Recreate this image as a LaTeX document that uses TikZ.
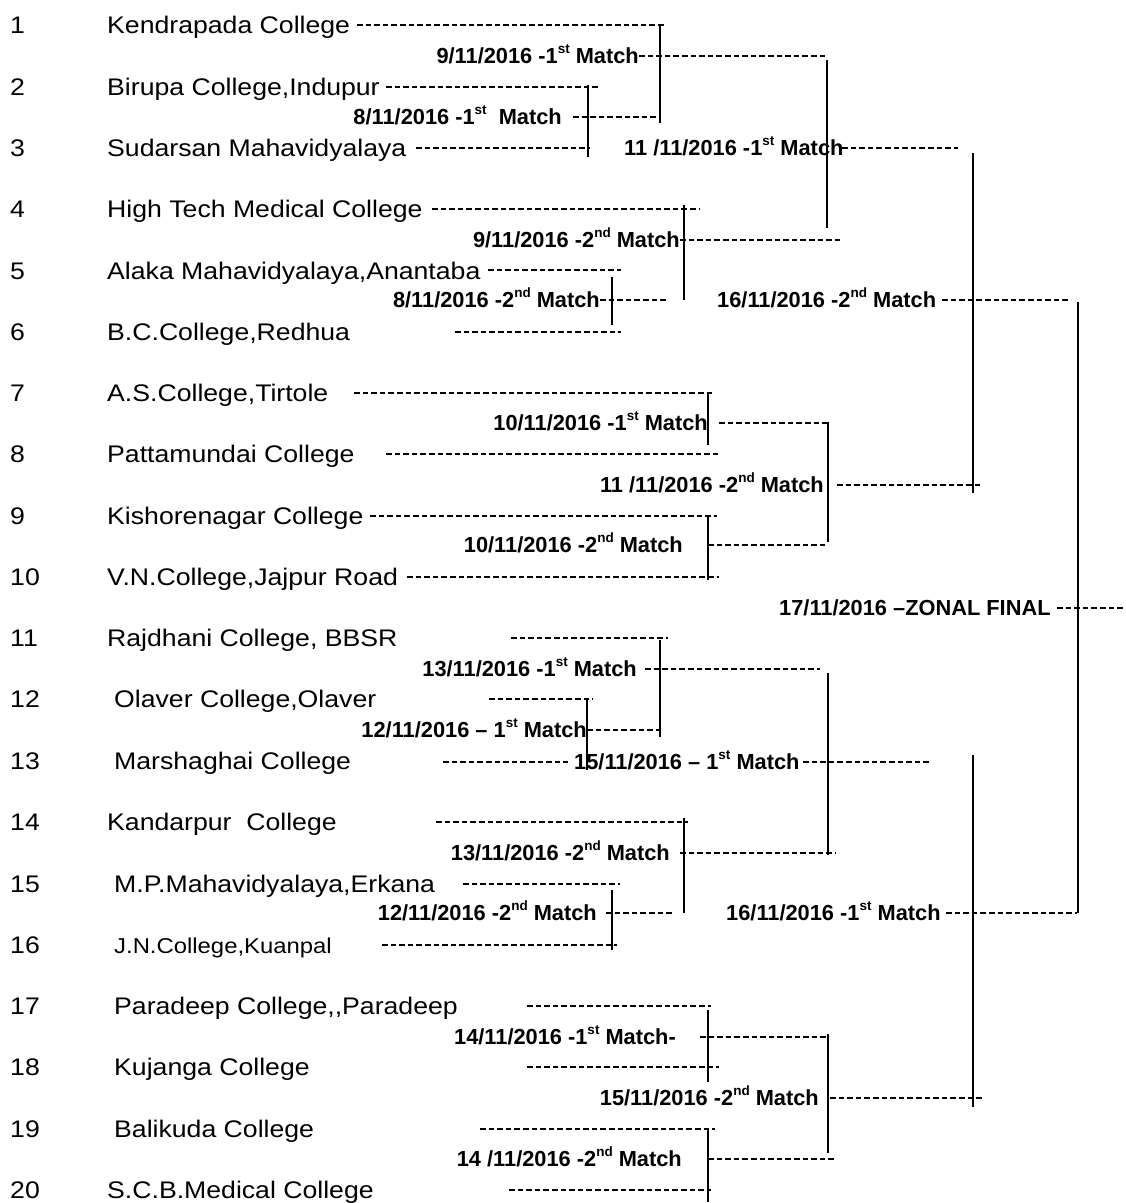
\documentclass[tikz,border=0pt]{standalone}
\usepackage{fontspec}
\setmainfont{Liberation Sans}
\newfontfamily\regf[FakeStretch=1.11]{Liberation Sans}
\newcommand\ordsup[1]{\raisebox{10pt}{\fontsize{13.5}{13.5}\selectfont #1}}
\tikzset{
  rownum/.style={anchor=base west, inner sep=0pt, font=\regf\fontsize{24}{28}\selectfont},
  college/.style={anchor=base west, inner sep=0pt, font=\regf\fontsize{24}{28}\selectfont},
  lbl/.style={anchor=base west, inner sep=0pt, font=\fontsize{21.8}{26}\selectfont\bfseries},
  lble/.style={lbl, anchor=base east},
  hy/.style={line width=2pt, dash pattern=on 5.6pt off 3pt},
  vl/.style={line width=1.8pt}
}
\begin{document}
\begin{tikzpicture}[x=1pt,y=-1pt]
\fill[white] (0,0) rectangle (1126,1203);
\useasboundingbox (0,0) rectangle (1126,1203);

% row numbers
\foreach \r/\b in {1/33.5,2/95,3/156.5,4/217.5,5/279,6/340.5,7/401.5,8/462.5,9/524.5,10/585.5,11/646.5,12/707.5,13/769.5,14/830.5,15/892.5,16/953.5,17/1014.5,18/1075.5,19/1137.5,20/1198.5}
  \node[rownum] (k\r) at (10,\b) {\r};

% names
\node[college] (n1) at (107,33.5) {Kendrapada College};
\node[college] (n2) at (107,95) {Birupa College,Indupur};
\node[college] (n3) at (107,156.5) {Sudarsan Mahavidyalaya};
\node[college] (n4) at (107,217.5) {High Tech Medical College};
\node[college] (n5) at (107,279) {Alaka Mahavidyalaya,Anantaba};
\node[college] (n6) at (107,340.5) {B.C.College,Redhua};
\node[college] (n7) at (107,401.5) {A.S.College,Tirtole};
\node[college] (n8) at (107,462.5) {Pattamundai College};
\node[college] (n9) at (107,524.5) {Kishorenagar College};
\node[college] (n10) at (107,585.5) {V.N.College,Jajpur Road};
\node[college] (n11) at (107,646.5) {Rajdhani College, BBSR};
\node[college] (n12) at (114,707.5) {Olaver College,Olaver};
\node[college] (n13) at (114,769.5) {Marshaghai College};
\node[college] (n14) at (107,830.5) {Kandarpur\ \ College};
\node[college] (n15) at (114,892.5) {M.P.Mahavidyalaya,Erkana};
\node[college, font=\regf\fontsize{21.5}{25}\selectfont] (n16) at (114,953) {J.N.College,Kuanpal};
\node[college] (n17) at (114,1014.5) {Paradeep College,,Paradeep};
\node[college] (n18) at (114,1075.5) {Kujanga College};
\node[college] (n19) at (114,1137.5) {Balikuda College};
\node[college] (n20) at (107,1198.5) {S.C.B.Medical College};

% match labels
\node[lble] (m1) at (639,63.5) {9/11/2016 -1\ordsup{st} Match};
\node[lble] (m2) at (562,124.5) {8/11/2016 -1\ordsup{st}\ \ Match};
\node[lbl] (m3) at (624,155.5) {11 /11/2016 -1\ordsup{st} Match};
\node[lble] (m4) at (680,247.5) {9/11/2016 -2\ordsup{nd} Match};
\node[lble] (m5) at (600,307.5) {8/11/2016 -2\ordsup{nd} Match};
\node[lbl] (m6) at (717,307.5) {16/11/2016 -2\ordsup{nd} Match};
\node[lble] (m7) at (708,430.5) {10/11/2016 -1\ordsup{st} Match};
\node[lble] (m8) at (824,492.5) {11 /11/2016 -2\ordsup{nd} Match};
\node[lble] (m9) at (683,552.5) {10/11/2016 -2\ordsup{nd} Match};
\node[lbl] (m10) at (779,615.5) {17/11/2016 –ZONAL FINAL};
\node[lble] (m11) at (637,676.5) {13/11/2016 -1\ordsup{st} Match};
\node[lble] (m12) at (587,737.5) {12/11/2016 – 1\ordsup{st} Match};
\node[lbl] (m13) at (574,769.5) {15/11/2016 – 1\ordsup{st} Match};
\node[lble] (m14) at (670,860.5) {13/11/2016 -2\ordsup{nd} Match};
\node[lble] (m15) at (597,920.5) {12/11/2016 -2\ordsup{nd} Match};
\node[lbl] (m16) at (726,920.5) {16/11/2016 -1\ordsup{st} Match};
\node[lble] (m17) at (676,1044.5) {14/11/2016 -1\ordsup{st} Match-};
\node[lble] (m18) at (819,1105.5) {15/11/2016 -2\ordsup{nd} Match};
\node[lble] (m19) at (682,1166.5) {14 /11/2016 -2\ordsup{nd} Match};

% dashed leaders from names
\draw[hy] (357,25) coordinate (a1) -- (666,25) coordinate (b1);
\draw[hy] (386,87) coordinate (a2) -- (600,87) coordinate (b2);
\draw[hy] (416,148) coordinate (a3) -- (590,148) coordinate (b3);
\draw[hy] (432,209) coordinate (a4) -- (700,209) coordinate (b4);
\draw[hy] (488,270) coordinate (a5) -- (621,270) coordinate (b5);
\draw[hy] (455,332) coordinate (a6) -- (621,332) coordinate (b6);
\draw[hy] (354,393) coordinate (a7) -- (715,393) coordinate (b7);
\draw[hy] (386,454) coordinate (a8) -- (719,454) coordinate (b8);
\draw[hy] (370,516) coordinate (a9) -- (717,516) coordinate (b9);
\draw[hy] (407,577) coordinate (a10) -- (719,577) coordinate (b10);
\draw[hy] (511,638) coordinate (a11) -- (668,638) coordinate (b11);
\draw[hy] (489,699) coordinate (a12) -- (593,699) coordinate (b12);
\draw[hy] (443,762) coordinate (a13) -- (568,762) coordinate (b13);
\draw[hy] (436,822) coordinate (a14) -- (688,822) coordinate (b14);
\draw[hy] (463,884) coordinate (a15) -- (620,884) coordinate (b15);
\draw[hy] (382,945) coordinate (a16) -- (617,945) coordinate (b16);
\draw[hy] (527,1006) coordinate (a17) -- (711,1006) coordinate (b17);
\draw[hy] (527,1067) coordinate (a18) -- (719,1067) coordinate (b18);
\draw[hy] (480,1129) coordinate (a19) -- (715,1129) coordinate (b19);
\draw[hy] (509,1190) coordinate (a20) -- (711,1190) coordinate (b20);

% dashed leaders from match labels
\draw[hy] (m1.east |- 0,56) -- (825,56) coordinate (c1);
\draw[hy] (573,117) -- (660,117) coordinate (c2);
\draw[hy] (842,148) -- (958,148) coordinate (c3);
\draw[hy] (m4.east |- 0,240) -- (842,240) coordinate (c4);
\draw[hy] (m5.east |- 0,300) -- (668,300) coordinate (c5);
\draw[hy] (942,300) -- (1071,300) coordinate (c6);
\draw[hy] (719,423) -- (828,423) coordinate (c7);
\draw[hy] (837,485) -- (981,485) coordinate (c8);
\draw[hy] (708,545) -- (828,545) coordinate (c9);
\draw[hy] (1057,608) -- (1126,608) coordinate (c10);
\draw[hy] (645,669) -- (820,669) coordinate (c11);
\draw[hy] (m12.east |- 0,730) -- (664,730) coordinate (c12);
\draw[hy] (803,762) -- (929,762) coordinate (c13);
\draw[hy] (680,853) -- (836,853) coordinate (c14);
\draw[hy] (606,913) -- (674,913) coordinate (c15);
\draw[hy] (946,913) -- (1077,913) coordinate (c16);
\draw[hy] (700,1037) -- (828,1037) coordinate (c17);
\draw[hy] (830,1098) -- (984,1098) coordinate (c18);
\draw[hy] (708,1159) -- (836,1159) coordinate (c19);

% solid bracket lines
\draw[vl] (660,25) -- (660,123);
\draw[vl] (827,60) -- (827,228);
\draw[vl] (588,85) -- (588,157);
\draw[vl] (973,153) -- (973,493);
\draw[vl] (684,205) -- (684,300);
\draw[vl] (612,277) -- (612,325);
\draw[vl] (1078,302) -- (1078,913);
\draw[vl] (708,393) -- (708,445);
\draw[vl] (828,422) -- (828,542);
\draw[vl] (708,516) -- (708,580);
\draw[vl] (660,640) -- (660,737);
\draw[vl] (828,673) -- (828,855);
\draw[vl] (587,698) -- (587,770);
\draw[vl] (973,755) -- (973,1107);
\draw[vl] (684,818) -- (684,913);
\draw[vl] (612,890) -- (612,950);
\draw[vl] (708,1010) -- (708,1082);
\draw[vl] (828,1034) -- (828,1153);
\draw[vl] (708,1130) -- (708,1202);
\end{tikzpicture}
\end{document}
